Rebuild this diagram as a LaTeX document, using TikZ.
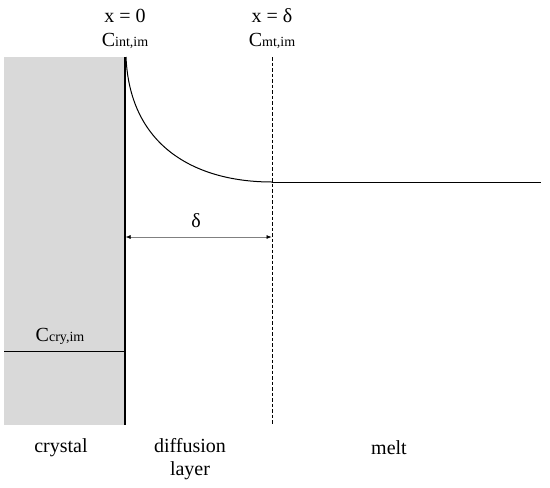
\documentclass[tikz,border=0pt]{standalone}
\usepackage{fontspec}
\setmainfont{Liberation Serif}
\usetikzlibrary{arrows.meta}
\begin{document}
\begin{tikzpicture}[x=1pt,y=-1pt,
  lbl/.style={font=\fontsize{20}{23}\selectfont, inner sep=0pt, align=center}]
\newcommand{\subtxt}[1]{{\fontsize{14}{16}\selectfont #1}}
\useasboundingbox (0,0) rectangle (550,488);
\fill[gray!30] (4,57) rectangle (125,425);
\coordinate (top) at (125,57);
\coordinate (bot) at (125,425);
\coordinate (dtop) at (272,57);
\coordinate (dbot) at (272,425);
\coordinate (flat) at (272,182);
\coordinate (end) at (541,182);
\draw[line width=1.3pt] (top) -- (bot);
\draw[line width=1pt, dash pattern=on 3.5pt off 2pt] (dtop) -- (dbot);
\draw[line width=1pt] (126,57) .. controls (130,150) and (200,182) .. (flat);
\draw[line width=1pt] (flat) -- (end);
\coordinate (cl) at (4,351);
\coordinate (cr) at (125,351);
\draw[line width=1pt] (cl) -- (cr);
\coordinate (al) at (125.6,237);
\coordinate (ar) at (271.5,237);
\draw[gray, line width=0.6pt, {Latex[black,length=5pt,width=4pt]}-{Latex[black,length=5pt,width=4pt]}] (al) -- (ar);
\node[lbl] (delta) at (196,221) {δ};
\node[lbl] (x0) at (125,16) {x = 0};
\node[lbl] (cint) at (125,41) {C\subtxt{int,im}};
\node[lbl] (xd) at (272,16) {x = δ};
\node[lbl] (cmt) at (272,41) {C\subtxt{mt,im}};
\node[lbl] (ccry) at (60,336) {C\subtxt{cry,im}};
\node[lbl] (crys) at (61,448) {crystal};
\node[lbl] (diff) at (190,459) {diffusion\\layer};
\node[lbl] (melt) at (389,448) {melt};
\end{tikzpicture}
\end{document}
